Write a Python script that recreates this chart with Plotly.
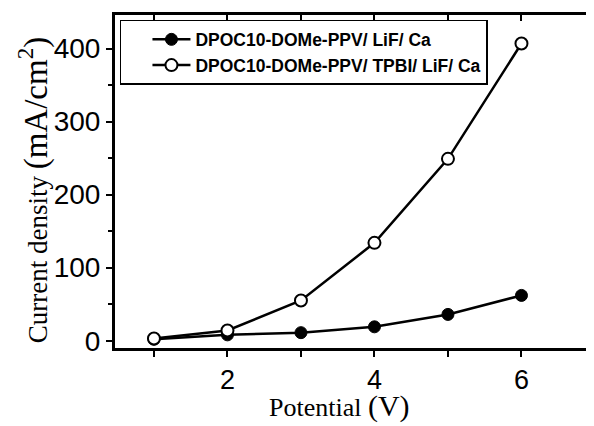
import plotly.graph_objects as go

# Data
potential = [1, 2, 3, 4, 5, 6]
j_lif_ca = [2, 8, 11, 19, 36, 62]
j_tpbi_lif_ca = [3, 14, 55, 134, 249, 407]
series_names = ["DPOC10-DOMe-PPV/ LiF/ Ca", "DPOC10-DOMe-PPV/ TPBI/ LiF/ Ca"]

x_range = [0.47, 6.946]
y_range = [-10, 446]

fig = go.Figure()
fig.add_trace(go.Scatter(
    x=potential, y=j_lif_ca, mode="lines+markers", name=series_names[0],
    line=dict(color="black", width=2.5),
    marker=dict(symbol="circle", size=12, color="black", line=dict(color="black", width=1)),
))
fig.add_trace(go.Scatter(
    x=potential, y=j_tpbi_lif_ca, mode="lines+markers", name=series_names[1],
    line=dict(color="black", width=2.5),
    marker=dict(symbol="circle", size=12, color="white", line=dict(color="black", width=2)),
))
# invisible helper so the mirrored (top / right) frame axes get drawn
fig.add_trace(go.Scatter(
    x=x_range, y=y_range, xaxis="x2", yaxis="y2", mode="markers",
    marker=dict(opacity=0), showlegend=False, hoverinfo="skip",
))

tickfont = dict(family="Liberation Sans, Arial, sans-serif", size=28, color="black")
xtickfont = dict(family="Liberation Sans, Arial, sans-serif", size=27, color="black")

fig.update_layout(
    width=586, height=418,
    margin=dict(l=107, r=3, t=7, b=78),
    paper_bgcolor="white", plot_bgcolor="white",
    showlegend=True,
    legend=dict(
        x=0.0104, y=0.985, xanchor="left", yanchor="top",
        bgcolor="white", bordercolor="black", borderwidth=1.5,
        font=dict(family="Liberation Sans, Arial, sans-serif", size=17.5, color="black", weight="bold"),
        itemwidth=38, indentation=26, tracegroupgap=0,
    ),
    xaxis=dict(
        range=x_range, showgrid=False, zeroline=False,
        showline=True, linecolor="black", linewidth=3,
        ticks="outside", ticklen=6, tickwidth=2, tickcolor="black",
        tickmode="array", tickvals=[2, 4, 6], tickfont=xtickfont,
        minor=dict(ticks="outside", ticklen=6, tickwidth=2, tickcolor="black",
                   tickmode="array", tickvals=[1, 3, 5]),
    ),
    yaxis=dict(
        range=y_range, showgrid=False, zeroline=False,
        showline=True, linecolor="black", linewidth=3,
        ticks="outside", ticklen=6, tickwidth=2, tickcolor="black",
        tickmode="array", tickvals=[0, 100, 200, 300, 400], tickfont=tickfont,
        minor=dict(ticks="outside", ticklen=4, tickwidth=2, tickcolor="black",
                   tickmode="array", tickvals=[50, 150, 250, 350]),
    ),
    xaxis2=dict(
        overlaying="x", side="top", range=x_range, showgrid=False, zeroline=False,
        showline=True, linecolor="black", linewidth=2.5,
        ticks="inside", ticklen=6, tickwidth=2, tickcolor="black",
        tickmode="array", tickvals=[2, 4, 6], showticklabels=False,
        minor=dict(ticks="inside", ticklen=6, tickwidth=2, tickcolor="black",
                   tickmode="array", tickvals=[1, 3, 5]),
    ),
    yaxis2=dict(
        overlaying="y", side="right", range=y_range, showgrid=False, zeroline=False,
        showline=True, linecolor="black", linewidth=2,
        ticks="inside", ticklen=5, tickwidth=2, tickcolor="black",
        tickmode="array", tickvals=[0, 100, 200, 300, 400], showticklabels=False,
        minor=dict(ticks="inside", ticklen=4, tickwidth=2, tickcolor="black",
                   tickmode="array", tickvals=[50, 150, 250, 350]),
    ),
    annotations=[
        dict(
            text='<span style="font-size:27px">Current density </span><span style="font-size:33px">(mA/cm<sup>2</sup>)</span>',
            xref="paper", yref="paper", x=-0.172, y=0.474, xanchor="center", yanchor="middle",
            textangle=-90, showarrow=False,
            font=dict(family="Liberation Serif, Times New Roman, serif", size=27, color="black"),
        ),
        dict(
            text='<span style="font-size:26px">Potential </span><span style="font-size:30px">(V)</span>',
            xref="paper", yref="paper", x=0.472, y=0.0, xanchor="center", yanchor="bottom",
            yshift=-77, showarrow=False,
            font=dict(family="Liberation Serif, Times New Roman, serif", size=26, color="black"),
        ),
    ],
)

fig.write_html("out.html")
